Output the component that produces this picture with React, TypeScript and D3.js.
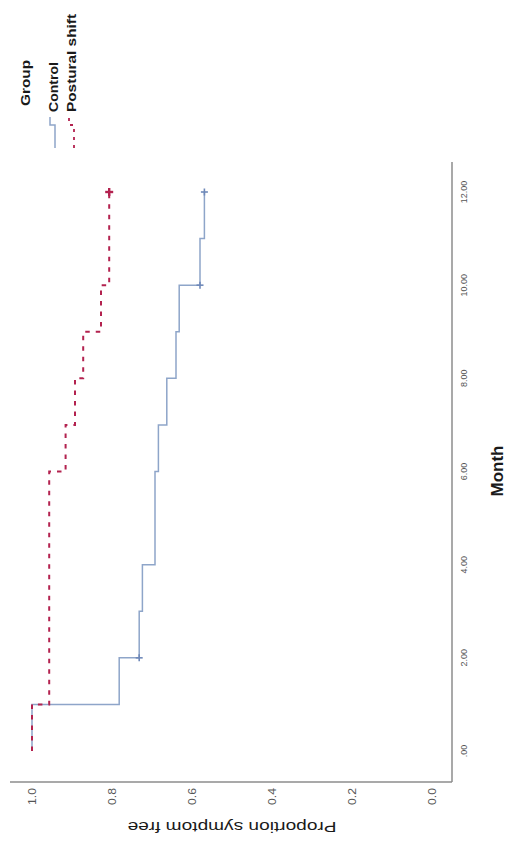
import React from "react";
import * as d3 from "d3";

// Kaplan–Meier estimates: step times (months) and survival after each step
const controlTimes = [0, 1, 2, 3, 4, 6, 7, 8, 9, 10, 11];
const controlSurvival = [1.0, 0.782, 0.732, 0.724, 0.6925, 0.684, 0.663, 0.64, 0.632, 0.58, 0.569];
const controlCensored = [2, 10, 12];

const posturalTimes = [0, 1, 6, 7, 8, 9, 10];
const posturalSurvival = [1.0, 0.957, 0.916, 0.8925, 0.872, 0.8275, 0.807];
const posturalCensored = [12];

const followUpEnd = 12;

const monthTicks = [0, 2, 4, 6, 8, 10, 12];
const monthTickLabels = [".00", "2.00", "4.00", "6.00", "8.00", "10.00", "12.00"];
const propTicks = [0, 0.2, 0.4, 0.6, 0.8, 1.0];
const propTickLabels = ["0.0", "0.2", "0.4", "0.6", "0.8", "1.0"];

const groupNames = ["Control", "Postural shift"];

const PAGE_W = 516;
const PAGE_H = 854;
const FONT = "'Liberation Sans', Arial, Helvetica, sans-serif";

const CONTROL_COLOR = "#8ea5c9";
const CONTROL_MARK = "#6f89b9";
const POSTURAL_COLOR = "#b3224f";
const AXIS_COLOR = "#8c8c8c";

export default function App() {
  // The chart is laid out in a landscape frame (width = PAGE_H, height = PAGE_W)
  // and then turned a quarter turn counter-clockwise onto the portrait page.
  const x = d3.scaleLinear().domain([0, 12]).range([103, 662]);
  const y = d3.scaleLinear().domain([0, 1]).range([432, 32]);

  const line = d3
    .line<[number, number]>()
    .x((d) => x(d[0]))
    .y((d) => y(d[1]))
    .curve(d3.curveStepAfter);

  const series = (times: number[], surv: number[]): [number, number][] => {
    const pts: [number, number][] = times.map((t, i) => [t, surv[i]]);
    pts.push([followUpEnd, surv[surv.length - 1]]);
    return pts;
  };

  const survAt = (times: number[], surv: number[], t: number) => {
    let s = surv[0];
    times.forEach((ti, i) => {
      if (ti <= t) s = surv[i];
    });
    return s;
  };

  const controlPts = series(controlTimes, controlSurvival);
  const posturalPts = series(posturalTimes, posturalSurvival);

  const plus = (cx: number, cy: number, r: number, color: string, w: number, key: string) => (
    <g key={key} stroke={color} strokeWidth={w}>
      <line x1={cx - r} x2={cx + r} y1={cy} y2={cy} />
      <line x1={cx} x2={cx} y1={cy - r} y2={cy + r} />
    </g>
  );

  const axisY = 452;
  const axisX = 72;

  return (
    <svg
      width={PAGE_W}
      height={PAGE_H}
      style={{ position: "absolute", left: 0, top: 0, display: "block", background: "#fff" }}
      fontFamily={FONT}
    >
      <rect width={PAGE_W} height={PAGE_H} fill="#fff" />
      <g transform={`translate(0,${PAGE_H}) rotate(-90)`}>
        {/* axes */}
        <line x1={axisX} x2={692} y1={axisY} y2={axisY} stroke={AXIS_COLOR} strokeWidth={1.5} />
        <line x1={axisX} x2={axisX} y1={10} y2={axisY} stroke={AXIS_COLOR} strokeWidth={1.5} />

        {/* month tick labels */}
        {monthTicks.map((m, i) => (
          <text key={"mt" + m} x={x(m)} y={467} fontSize={9} fill="#555" textAnchor="middle">
            {monthTickLabels[i]}
          </text>
        ))}

        {/* proportion tick labels */}
        {propTicks.map((p, i) => (
          <text
            key={"pt" + p}
            x={66}
            y={y(p) + 4}
            fontSize={11}
            fill="#555"
            textAnchor="end"
            textLength={17}
            lengthAdjust="spacingAndGlyphs"
          >
            {propTickLabels[i]}
          </text>
        ))}

        {/* axis titles */}
        <text x={383} y={503} fontSize={17} fontWeight="bold" fill="#1a1a1a" textAnchor="middle">
          Month
        </text>
        <text
          transform={`translate(32,${232}) rotate(-90)`}
          fontSize={15.5}
          fill="#1a1a1a"
          textAnchor="middle"
          textLength={209}
          lengthAdjust="spacingAndGlyphs"
        >
          Proportion symptom free
        </text>

        {/* survival curves */}
        <path d={line(controlPts) || ""} fill="none" stroke={CONTROL_COLOR} strokeWidth={1.5} />
        <path
          d={line(posturalPts) || ""}
          fill="none"
          stroke={POSTURAL_COLOR}
          strokeWidth={2}
          strokeDasharray="4.5,6"
        />

        {/* censored observations */}
        {controlCensored.map((t) =>
          plus(x(t), y(survAt(controlTimes, controlSurvival, t)), 3.5, CONTROL_MARK, 1.6, "cc" + t)
        )}
        {posturalCensored.map((t) =>
          plus(x(t), y(survAt(posturalTimes, posturalSurvival, t)), 4, POSTURAL_COLOR, 2.4, "pc" + t)
        )}

        {/* legend */}
        <text
          x={748}
          y={30}
          fontSize={12.5}
          fontWeight="bold"
          fill="#1a1a1a"
          textLength={46}
          lengthAdjust="spacingAndGlyphs"
        >
          Group
        </text>
        <path
          d="M706,55 H729 V50 H737"
          fill="none"
          stroke={CONTROL_COLOR}
          strokeWidth={1.5}
        />
        <text
          x={742}
          y={58}
          fontSize={12.5}
          fontWeight="bold"
          fill="#1a1a1a"
          textLength={50}
          lengthAdjust="spacingAndGlyphs"
        >
          {groupNames[0]}
        </text>
        <path
          d="M706,74 H729 V69 H737"
          fill="none"
          stroke={POSTURAL_COLOR}
          strokeWidth={1.8}
          strokeDasharray="3,5"
        />
        <text
          x={742}
          y={76}
          fontSize={12.5}
          fontWeight="bold"
          fill="#1a1a1a"
          textLength={98}
          lengthAdjust="spacingAndGlyphs"
        >
          {groupNames[1]}
        </text>
      </g>
    </svg>
  );
}
